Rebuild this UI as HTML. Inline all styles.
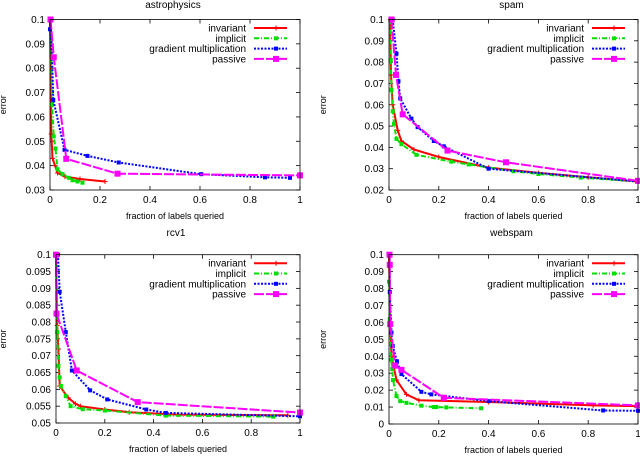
<!DOCTYPE html>
<html><head><meta charset="utf-8">
<style>
body{margin:0;background:#fff;}
svg{display:block;font-family:"Liberation Sans",sans-serif;}
</style></head>
<body>
<svg id="c" width="640" height="456" viewBox="0 0 640 456"></svg>
<script>
// ---- data ----
const titles=["astrophysics","spam","rcv1","webspam"];
const seriesNames=["invariant","implicit","gradient multiplication","passive"];
const yMins=[0.03,0.02,0.05,0];
const yMaxs=[0.1,0.1,0.1,0.1];
const yTickLabels=[
 ["0.03","0.04","0.05","0.06","0.07","0.08","0.09","0.1"],
 ["0.02","0.03","0.04","0.05","0.06","0.07","0.08","0.09","0.1"],
 ["0.05","0.055","0.06","0.065","0.07","0.075","0.08","0.085","0.09","0.095","0.1"],
 ["0","0.01","0.02","0.03","0.04","0.05","0.06","0.07","0.08","0.09","0.1"]];
const xTickLabels=["0","0.2","0.4","0.6","0.8","1"];
const astroInv=[[0,0.1],[0.005,0.053],[0.01,0.043],[0.02,0.04],[0.03,0.037],[0.06,0.0355],[0.12,0.0345],[0.22,0.0335]];
const astroImp=[[0.003,0.1],[0.008,0.065],[0.015,0.052],[0.022,0.047],[0.03,0.0385],[0.05,0.0365],[0.075,0.035],[0.09,0.034],[0.11,0.0335],[0.13,0.033]];
const astroGrad=[[0,0.096],[0.003,0.1],[0.013,0.067],[0.058,0.0465],[0.15,0.044],[0.275,0.0413],[0.605,0.0365],[0.86,0.0352],[0.96,0.035]];
const astroPas=[[0.002,0.1],[0.015,0.0845],[0.065,0.0428],[0.27,0.0367],[1,0.036]];
const spamInv=[[0.005,0.1],[0.008,0.074],[0.015,0.06],[0.035,0.048],[0.05,0.043],[0.1,0.039],[0.2,0.0355],[0.4,0.0305],[0.6,0.028],[0.8,0.026],[1,0.024]];
const spamImp=[[0.005,0.1],[0.007,0.081],[0.01,0.067],[0.015,0.057],[0.02,0.051],[0.03,0.044],[0.05,0.0415],[0.11,0.0365],[0.25,0.0333],[0.32,0.032],[0.5,0.0288],[0.6,0.0275],[0.77,0.0258],[1,0.024]];
const spamGrad=[[0.015,0.1],[0.03,0.084],[0.038,0.071],[0.045,0.063],[0.09,0.0535],[0.115,0.0495],[0.18,0.043],[0.22,0.0405],[0.4,0.03],[1,0.024]];
const spamPas=[[0.01,0.1],[0.028,0.074],[0.055,0.0555],[0.235,0.0385],[0.47,0.033],[1,0.0243]];
const rcvInv=[[0,0.1],[0.005,0.079],[0.01,0.072],[0.015,0.061],[0.05,0.0575],[0.08,0.0557],[0.1,0.055],[0.2,0.054],[0.3,0.0532],[0.5,0.0525],[0.95,0.0523]];
const rcvImp=[[0.002,0.1],[0.005,0.077],[0.01,0.067],[0.015,0.0635],[0.02,0.061],[0.04,0.058],[0.06,0.055],[0.11,0.0541],[0.2,0.0537],[0.45,0.0522],[0.89,0.0519]];
const rcvGrad=[[0.008,0.1],[0.015,0.089],[0.04,0.077],[0.065,0.0656],[0.14,0.0597],[0.21,0.057],[0.37,0.054],[0.45,0.053],[1,0.052]];
const rcvPas=[[0,0.1],[0.002,0.0825],[0.085,0.0656],[0.335,0.0562],[1,0.0531]];
const webInv=[[0,0.1],[0.005,0.06],[0.01,0.04],[0.02,0.033],[0.03,0.026],[0.07,0.0175],[0.12,0.014],[0.4,0.013],[0.82,0.011],[1,0.0105]];
const webImp=[[0,0.084],[0.003,0.062],[0.008,0.038],[0.013,0.0325],[0.016,0.026],[0.03,0.0165],[0.045,0.0135],[0.07,0.0125],[0.13,0.0108],[0.18,0.01],[0.19,0.01],[0.23,0.0098],[0.37,0.0093]];
const webGrad=[[0.003,0.1],[0.003,0.078],[0.01,0.054],[0.015,0.046],[0.032,0.037],[0.05,0.0295],[0.13,0.019],[0.17,0.0175],[0.4,0.0135],[0.86,0.008],[1,0.0078]];
const webPas=[[0.002,0.1],[0.003,0.094],[0.005,0.059],[0.025,0.0345],[0.05,0.032],[0.22,0.0155],[1,0.011]];
const panelSeries=[[astroInv,astroImp,astroGrad,astroPas],[spamInv,spamImp,spamGrad,spamPas],[rcvInv,rcvImp,rcvGrad,rcvPas],[webInv,webImp,webGrad,webPas]];

// ---- layout ----
const boxes=[{l:50,r:300,t:19.5,b:190,ox:0,oy:0},{l:389,r:638,t:19.5,b:190,ox:320,oy:0},
 {l:56,r:300,t:254.7,b:423,ox:0,oy:228},{l:389,r:638,t:254.7,b:424,ox:320,oy:228}];
const colors=["#ff0000","#00e000","#0000ff","#ff00ff"];
const dashes=["","5,2,1,2","2,1.5","10,2"];
const NS="http://www.w3.org/2000/svg";
const svg=document.getElementById('c');
function mk(tag,attrs,parent){const e=document.createElementNS(NS,tag);for(const k in attrs)e.setAttribute(k,attrs[k]);(parent||svg).appendChild(e);return e;}

panelSeries.forEach((series,p)=>{
 const B=boxes[p];
 const g=mk('g',{});
 
 
 const sx=v=>B.l+v*(B.r-B.l);
 const sy=v=>B.b-(v-yMins[p])/(yMaxs[p]-yMins[p])*(B.b-B.t);
 const t=mk('text',{x:(B.l+B.r)/2-2,y:B.oy+8,'font-size':10,'text-anchor':'middle',fill:'#000'},g);
 t.textContent=titles[p];
 
 
 const yl=yTickLabels[p];
 yl.forEach((lab,i)=>{
  const v=yMins[p]+i*(yMaxs[p]-yMins[p])/(yl.length-1);
  const y=sy(v);
  mk('line',{x1:B.l,x2:B.l+4,y1:y,y2:y,stroke:'#000','stroke-width':0.8},g);
  mk('line',{x1:B.r-4,x2:B.r,y1:y,y2:y,stroke:'#000','stroke-width':0.8},g);
  const tx=mk('text',{x:B.l-5,y:y+3.5,'font-size':10,'text-anchor':'end'},g);
  tx.textContent=lab;
  
  
 });
 xTickLabels.forEach((lab,i)=>{
  const x=sx(i/(xTickLabels.length-1));
  mk('line',{x1:x,x2:x,y1:B.b,y2:B.b-4,stroke:'#000','stroke-width':0.8},g);
  mk('line',{x1:x,x2:x,y1:B.t,y2:B.t+4,stroke:'#000','stroke-width':0.8},g);
  const tx=mk('text',{x:x,y:B.b+13,'font-size':10,'text-anchor':'middle'},g);
  tx.textContent=lab;
  
  
 });
 const xt=mk('text',{x:(B.l+B.r)/2,y:B.b+29,'font-size':9,'text-anchor':'middle'},g);
 xt.textContent='fraction of labels queried';
 
 
 const ycy=(B.t+B.b)/2;
 const yt=mk('text',{x:B.ox+6,y:ycy,'font-size':9,'text-anchor':'middle',transform:`rotate(-90 ${B.ox+6} ${ycy})`},g);
 yt.textContent='error';
 
 
 const cp=mk('clipPath',{id:'cp'+p},g);
 mk('rect',{x:B.l-4,y:B.t-4,width:B.r-B.l+8,height:B.b-B.t+8},cp);
 const sg=mk('g',{'clip-path':`url(#cp${p})`},g);
 series.forEach((pts,s)=>{
  const sgg=mk('g',{},sg);
  
  
  const d=pts.map((q,i)=>(i?'L':'M')+sx(q[0]).toFixed(1)+','+sy(q[1]).toFixed(1)).join('');
  mk('path',{d:d,fill:'none',stroke:colors[s],'stroke-width':2,'stroke-dasharray':dashes[s]},sgg);
  pts.forEach(q=>{
   const x=sx(q[0]),y=sy(q[1]);
   if(s==0){mk('path',{d:`M${x-2.5},${y}h5M${x},${y-2.5}v5`,stroke:colors[s],'stroke-width':1},sgg);}
   else{const r=s==3?3:2;mk('rect',{x:x-r,y:y-r,width:2*r,height:2*r,fill:colors[s]},sgg);}
  });
 });
 mk('rect',{x:B.l,y:B.t,width:B.r-B.l,height:B.b-B.t,fill:'none',stroke:'#000','stroke-width':0.8},g);
 const lg=mk('g',{},g);
 
 
 const lx=B.r-46;
 seriesNames.forEach((n,s)=>{
  const y=B.t+8.5+s*10.3;
  const tx=mk('text',{x:lx-8,y:y+3.5,'font-size':10,'text-anchor':'end'},lg);
  tx.textContent=n;
  
  
  mk('line',{x1:lx,x2:lx+33,y1:y,y2:y,stroke:colors[s],'stroke-width':2,'stroke-dasharray':dashes[s]},lg);
  const mx=lx+22;
  if(s==0)mk('path',{d:`M${mx-2.5},${y}h5M${mx},${y-2.5}v5`,stroke:colors[s],'stroke-width':1},lg);
  else{const r=s==3?3:2;mk('rect',{x:mx-r,y:y-r,width:2*r,height:2*r,fill:colors[s]},lg);}
 });
});
</script>
</body></html>
